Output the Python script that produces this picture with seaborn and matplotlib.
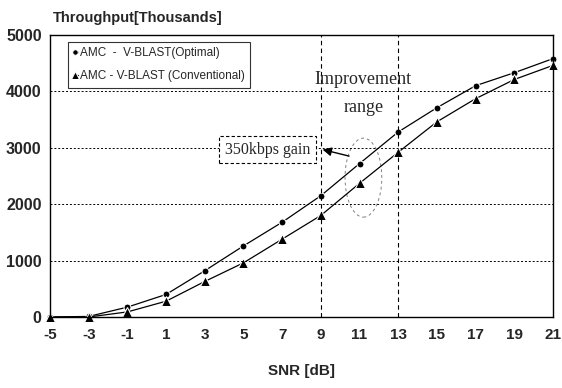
import matplotlib
matplotlib.use("Agg")
import matplotlib.pyplot as plt
from matplotlib.patches import Ellipse
import pandas as pd
import seaborn as sns

snr = [-5, -3, -1, 1, 3, 5, 7, 9, 11, 13, 15, 17, 19, 21]
optimal = [0, 10, 175, 400, 820, 1260, 1680, 2150, 2720, 3280, 3710, 4100, 4330, 4580]
conventional = [0, 0, 90, 280, 630, 960, 1380, 1800, 2370, 2920, 3460, 3870, 4210, 4460]
labels = ["AMC  -  V-BLAST(Optimal)", "AMC - V-BLAST (Conventional)"]
yticks = [0, 1000, 2000, 3000, 4000, 5000]

df = pd.DataFrame({
    "snr": snr * 2,
    "throughput": optimal + conventional,
    "series": [labels[0]] * len(snr) + [labels[1]] * len(snr),
})

sns.set_style("white")
plt.rcParams["font.family"] = ["Liberation Sans Narrow", "Liberation Sans", "DejaVu Sans"]

fig = plt.figure(figsize=(5.62, 3.88), dpi=100)
ax = fig.add_axes([0.089, 0.183, 0.895, 0.727])

sns.lineplot(data=df, x="snr", y="throughput", hue="series", style="series",
             markers={labels[0]: "o", labels[1]: "^"}, dashes=False,
             palette={labels[0]: "black", labels[1]: "black"},
             linewidth=0.9, markersize=5, ax=ax, clip_on=False)
for line in ax.lines:
    line.set_clip_on(False)
# triangles a bit bigger than the dots
ax.lines[1].set_markersize(6.5)

ax.set_xlim(-5, 21)
ax.set_ylim(0, 5000)
ax.set_xticks(snr)
ax.set_yticks(yticks)
ax.set_xticklabels([str(v) for v in snr], fontsize=11, fontweight="bold")
ax.set_yticklabels([str(v) for v in yticks], fontsize=11.5, fontweight="bold")
ax.tick_params(axis="x", length=0, pad=8)
ax.tick_params(axis="y", length=0, pad=6)

for v in yticks[1:-1]:
    ax.axhline(v, color="black", linestyle=(0, (2, 2)), linewidth=0.7)
for v in [9, 13]:
    ax.axvline(v, color="black", linestyle=(0, (4, 3)), linewidth=0.8)

for s in ax.spines.values():
    s.set_color("black")
    s.set_linewidth(1.0)

ax.set_xlabel("SNR [dB]", fontsize=11, fontweight="bold", labelpad=16)
ax.set_ylabel("")
fig.text(0.245, 0.935, "Throughput[Thousands]", fontsize=10.5, fontweight="bold",
         ha="center", va="bottom")

leg = ax.legend(loc="upper left", bbox_to_anchor=(0.035, 0.975), fontsize=8.5,
                frameon=True, fancybox=False, edgecolor="black",
                handlelength=0.4, handletextpad=0.2, borderpad=0.45,
                labelspacing=0.95, borderaxespad=0)
leg.get_frame().set_linewidth(0.8)
leg.legend_handles[0].set_markersize(4)
leg.legend_handles[1].set_markersize(5.5)

ax.text(11.2, 4210, "Improvement", family="Liberation Serif", fontsize=13,
        ha="center", va="center")
ax.text(11.2, 3720, "range", family="Liberation Serif", fontsize=13,
        ha="center", va="center")

ax.annotate("", xy=(8.95, 2980), xytext=(10.6, 2840),
            arrowprops=dict(arrowstyle="-|>", color="black", lw=1.0, mutation_scale=13))
ax.text(6.25, 2965, "350kbps gain", family="Liberation Serif", fontsize=11.5,
        ha="center", va="center",
        bbox=dict(boxstyle="square,pad=0.35", facecolor="white",
                  edgecolor="black", linestyle=(0, (3, 2)), linewidth=0.8))

ax.add_patch(Ellipse((11.2, 2470), 1.9, 1400, angle=0, fill=False,
                     edgecolor="grey", linestyle=(0, (3, 3)), linewidth=0.7))

fig.savefig("out.png", dpi=100)
